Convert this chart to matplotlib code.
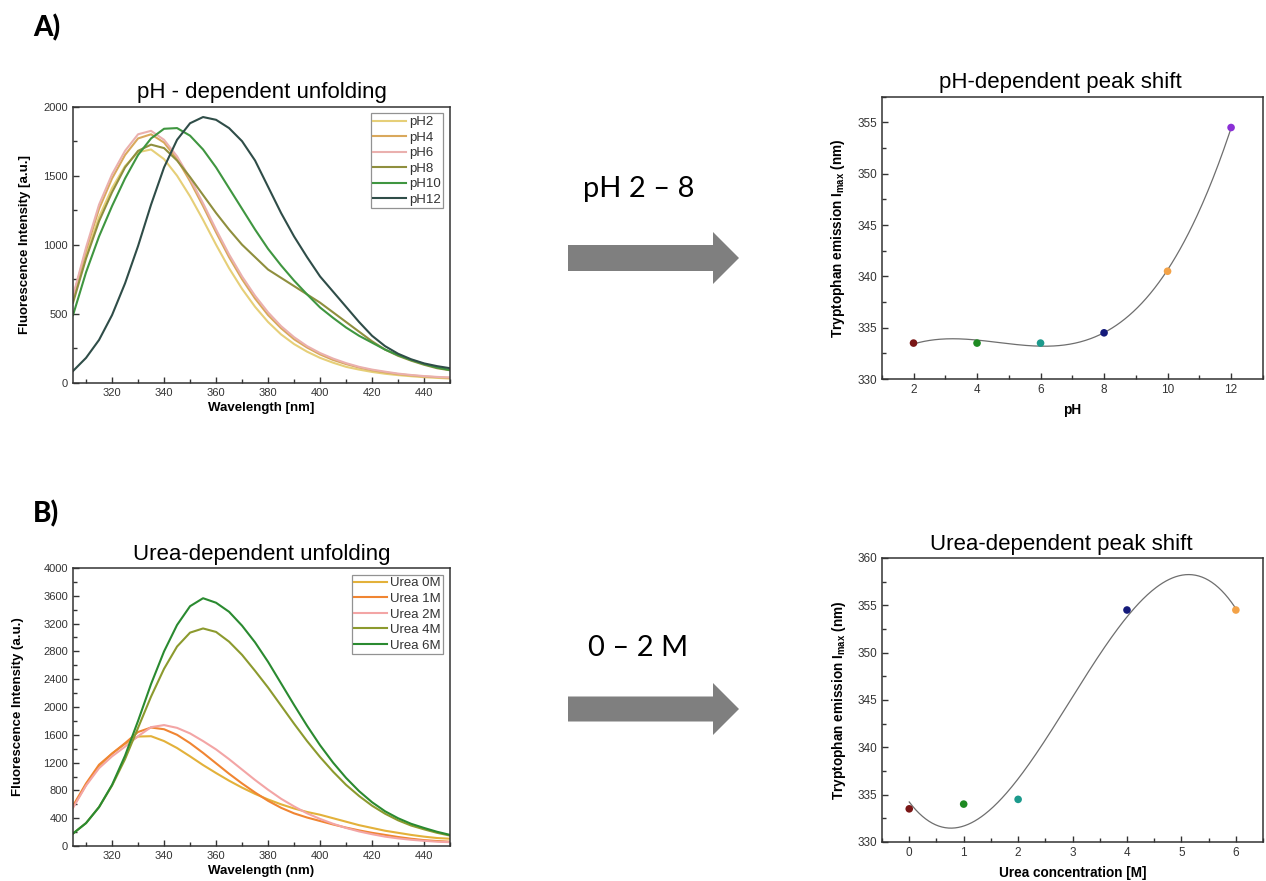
import numpy as np
import matplotlib.pyplot as plt
from matplotlib.ticker import MultipleLocator
from matplotlib.patches import FancyArrow

plt.rcParams['font.family'] = ['Liberation Sans', 'DejaVu Sans']
plt.rcParams['mathtext.default'] = 'regular'

# emission spectra, read every 5 nm
wavelength = np.arange(305, 451, 5)

ph_names = ['pH2', 'pH4', 'pH6', 'pH8', 'pH10', 'pH12']
ph_colors = ['#e6cf78', '#d9a85c', '#eab0ae', '#8f8f3e', '#3f9640', '#2f4d48']
ph2 = [600, 920, 1200, 1410, 1570, 1670, 1690, 1620, 1500, 1350, 1180, 1000, 830, 680, 550,
       440, 350, 280, 225, 180, 145, 115, 95, 78, 65, 55, 47, 40, 35, 30]
ph4 = [620, 960, 1260, 1480, 1650, 1770, 1800, 1740, 1620, 1460, 1280, 1090, 910, 750, 610,
       490, 395, 315, 255, 205, 165, 135, 110, 90, 75, 62, 53, 45, 40, 35]
ph6 = [630, 980, 1290, 1510, 1680, 1800, 1825, 1760, 1640, 1480, 1300, 1110, 930, 770, 630,
       510, 410, 330, 265, 215, 175, 142, 115, 95, 80, 66, 56, 48, 42, 38]
ph8 = [580, 900, 1170, 1380, 1560, 1680, 1725, 1700, 1610, 1490, 1360, 1230, 1110, 1000, 910,
       820, 760, 700, 640, 580, 510, 440, 370, 300, 240, 195, 160, 130, 105, 90]
ph10 = [490, 800, 1060, 1280, 1480, 1650, 1770, 1840, 1845, 1790, 1690, 1560, 1410, 1260, 1110,
        970, 850, 740, 640, 545, 470, 400, 340, 290, 240, 200, 165, 135, 110, 92]
ph12 = [85, 180, 310, 490, 720, 990, 1290, 1560, 1760, 1880, 1925, 1905, 1845, 1750, 1610,
        1420, 1230, 1060, 910, 770, 660, 550, 440, 340, 265, 210, 170, 140, 120, 105]
ph_spectra = [ph2, ph4, ph6, ph8, ph10, ph12]

urea_names = ['Urea 0M', 'Urea 1M', 'Urea 2M', 'Urea 4M', 'Urea 6M']
urea_colors = ['#e3b13a', '#f08532', '#f3a5a5', '#8c9a2e', '#2a8a30']
urea0 = [560, 880, 1150, 1330, 1470, 1575, 1580, 1510, 1410, 1290, 1165, 1050, 940, 840, 750,
         670, 600, 540, 490, 450, 400, 350, 300, 260, 220, 190, 160, 135, 115, 105]
urea1 = [580, 900, 1170, 1330, 1480, 1640, 1705, 1680, 1600, 1480, 1340, 1190, 1040, 900, 770,
         650, 550, 470, 410, 360, 310, 265, 225, 190, 160, 130, 105, 85, 72, 62]
urea2 = [550, 870, 1120, 1290, 1430, 1580, 1710, 1740, 1700, 1620, 1510, 1390, 1250, 1100, 950,
         810, 680, 570, 470, 390, 320, 260, 210, 170, 135, 110, 90, 75, 62, 55]
urea4 = [180, 330, 560, 870, 1250, 1700, 2150, 2550, 2870, 3070, 3130, 3080, 2940, 2750, 2520,
         2280, 2020, 1760, 1510, 1280, 1070, 880, 720, 580, 465, 370, 295, 240, 190, 150]
urea6 = [180, 330, 560, 880, 1300, 1800, 2330, 2800, 3180, 3450, 3565, 3500, 3370, 3170, 2930,
         2650, 2340, 2030, 1730, 1450, 1200, 980, 790, 630, 500, 400, 320, 260, 205, 160]
urea_spectra = [urea0, urea1, urea2, urea4, urea6]

# emission maxima
ph_values = [2, 4, 6, 8, 10, 12]
ph_peak = [333.5, 333.5, 333.5, 334.5, 340.5, 354.5]
ph_dot_colors = ['#7a1616', '#1e8a22', '#1c9a8c', '#141a7a', '#f3a247', '#8b2fd6']

urea_conc = [0, 1, 2, 4, 6]
urea_peak = [333.5, 334.0, 334.5, 354.5, 354.5]
urea_dot_colors = ['#7a1616', '#1e8a22', '#1c9a8c', '#141a7a', '#f3a247']

fig = plt.figure(figsize=(12.66, 8.81), dpi=100)


def style_axes(ax, size):
    for s in ax.spines.values():
        s.set_linewidth(1.1)
        s.set_color('#333333')
    ax.tick_params(which='both', direction='in', top=False, right=False,
                   labelsize=size, labelcolor='#333333', color='#333333', width=1)
    ax.tick_params(which='major', length=4)
    ax.tick_params(which='minor', length=3)


def spectra_panel(rect, curves, names, colors, title, xlabel, ylabel, ylim, ymajor, yminor,
                  title_pad, ylabel_pad):
    ax = fig.add_axes(rect)
    for y, name, c in zip(curves, names, colors):
        ax.plot(wavelength, y, color=c, lw=1.5, label=name)
    ax.set_xlim(305, 450)
    ax.set_ylim(*ylim)
    ax.xaxis.set_major_locator(MultipleLocator(20))
    ax.xaxis.set_minor_locator(MultipleLocator(10))
    ax.yaxis.set_major_locator(MultipleLocator(ymajor))
    ax.yaxis.set_minor_locator(MultipleLocator(yminor))
    style_axes(ax, 8)
    ax.set_title(title, fontsize=16, pad=title_pad)
    ax.set_xlabel(xlabel, fontsize=9.5, fontweight='bold', labelpad=3)
    ax.set_ylabel(ylabel, fontsize=9.5, fontweight='bold', labelpad=ylabel_pad)
    leg = ax.legend(loc='upper right', fontsize=9.5, frameon=True, fancybox=False,
                    handlelength=2.5, handletextpad=0.2, labelspacing=0.25,
                    borderpad=0.2, borderaxespad=0.5)
    leg.get_frame().set_edgecolor('#777777')
    leg.get_frame().set_linewidth(0.9)
    for t in leg.get_texts():
        t.set_color('#333333')
    return ax


spectra_panel([0.0577, 0.5656, 0.2978, 0.3133], ph_spectra, ph_names, ph_colors,
              'pH - dependent unfolding', 'Wavelength [nm]', 'Fluorescence Intensity [a.u.]',
              (0, 2000), 500, 250, 6, 9)
spectra_panel([0.0577, 0.0397, 0.2978, 0.3156], urea_spectra, urea_names, urea_colors,
              'Urea-dependent unfolding', 'Wavelength (nm)', 'Fluorescence Intensity (a.u.)',
              (0, 4000), 400, 200, 6, 14)


def shift_panel(rect, x, y, dot_colors, title, xlabel, xlim, ylim, xmajor, xminor):
    ax = fig.add_axes(rect)
    # cubic least-squares fit through the maxima
    fit = np.polynomial.Polynomial.fit(x, y, 3)
    xs = np.linspace(min(x), max(x), 300)
    ax.plot(xs, fit(xs), color='#6e6e6e', lw=0.9, zorder=1)
    ax.scatter(x, y, s=30, c=dot_colors, zorder=2, linewidths=0)
    ax.set_xlim(*xlim)
    ax.set_ylim(*ylim)
    ax.xaxis.set_major_locator(MultipleLocator(xmajor))
    ax.xaxis.set_minor_locator(MultipleLocator(xminor))
    ax.yaxis.set_major_locator(MultipleLocator(5))
    ax.yaxis.set_minor_locator(MultipleLocator(2.5))
    style_axes(ax, 8.5)
    ax.set_title(title, fontsize=16, pad=6, x=0.47)
    ax.set_xlabel(xlabel, fontsize=9.8, fontweight='bold', labelpad=5)
    ax.set_ylabel('Tryptophan emission I$_{max}$ (nm)', fontsize=9.8,
                  fontweight='bold', labelpad=7)
    return ax


shift_panel([0.6965, 0.5698, 0.301, 0.3204], ph_values, ph_peak, ph_dot_colors,
            'pH-dependent peak shift', 'pH', (1, 13), (330, 357.5), 2, 1)
shift_panel([0.6967, 0.0443, 0.301, 0.3224], urea_conc, urea_peak, urea_dot_colors,
            'Urea-dependent peak shift', 'Urea concentration [M]', (-0.5, 6.5), (330, 360), 1, 0.5)

# panel letters, arrows and condition labels on a full-figure overlay
over = fig.add_axes([0, 0, 1, 1], zorder=-1)
over.set_xlim(0, 1266)
over.set_ylim(881, 0)
over.axis('off')

over.text(33, 28, 'A)', fontsize=20, fontweight='black', family=['Lato', 'DejaVu Sans'],
          va='center', ha='left')
over.text(33, 514, 'B)', fontsize=20, fontweight='black', family=['Lato', 'DejaVu Sans'],
          va='center', ha='left')

over.add_patch(FancyArrow(568, 258, 171, 0, width=26, head_width=52, head_length=26,
                          length_includes_head=True, color='#7f7f7f', lw=0))
over.add_patch(FancyArrow(568, 709, 171, 0, width=25, head_width=52, head_length=26,
                          length_includes_head=True, color='#7f7f7f', lw=0))
over.text(639, 189, 'pH 2 – 8', fontsize=21, family=['Lato', 'DejaVu Sans'],
          ha='center', va='center')
over.text(638, 648, '0 – 2 M', fontsize=21, family=['Lato', 'DejaVu Sans'],
          ha='center', va='center')

fig.savefig('out.png', dpi=100)
